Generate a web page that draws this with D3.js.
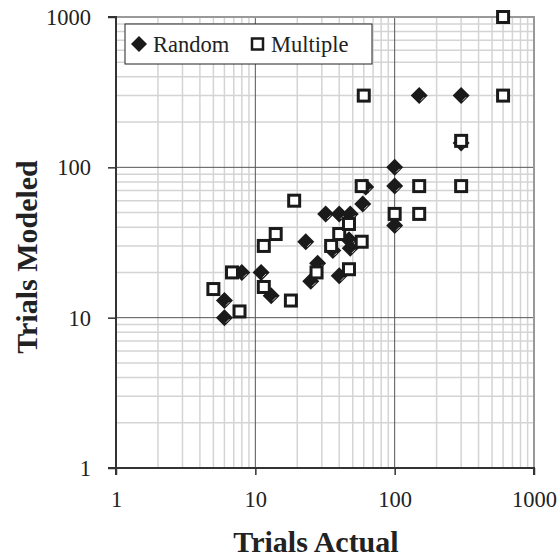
<!DOCTYPE html>
<html>
<head>
<meta charset="utf-8">
<script src="https://cdn.jsdelivr.net/npm/d3@7"></script>
<style>
  body { margin: 0; background: #fff; }
  svg text { font-family: "Times New Roman", "Liberation Serif", Times, serif; fill: #222; }
</style>
</head>
<body>
<svg id="chart"></svg>
<script>
// data (trials actual, trials modeled)
const randomX = [6, 6, 8, 11, 13, 23, 25, 28, 32, 40, 48, 40, 47, 48, 36, 59, 62, 100, 100, 100, 150, 300, 300];
const randomY = [10, 13, 20, 20, 14, 32, 17.5, 23, 49, 49, 49, 19, 33, 29, 28, 57, 74, 100, 75, 41, 300, 300, 145];
const multipleX = [5, 6.8, 7.7, 11.5, 11.5, 14, 18, 19, 27.5, 35, 40, 47, 47, 58, 58, 60, 100, 150, 150, 300, 300, 600, 600];
const multipleY = [15.5, 20, 11, 16, 30, 36, 13, 60, 20, 30, 36, 42, 21, 32, 75, 300, 49, 49, 75, 75, 150, 300, 1000];
const tickValues = [1, 10, 100, 1000];
const seriesNames = ['Random', 'Multiple'];

const w = 560, h = 557;
const pLeft = 116, pRight = 534, pTop = 17, pBottom = 468;
const serif = '"Times New Roman", "Liberation Serif", Times, serif';

const svg = d3.select('#chart')
  .attr('width', w)
  .attr('height', h)

const x = d3.scaleLog().domain([1, 1000]).range([pLeft, pRight]);
const y = d3.scaleLog().domain([1, 1000]).range([pBottom, pTop]);

// minor grid (2..9 in each decade)
const minor = [];
[1, 10, 100].forEach(d => { for (let k = 2; k <= 9; k++) minor.push(d * k) });

const grid = svg.append('g')
grid.selectAll('.vminor').data(minor).enter().append('line')
  .attr('x1', d => x(d)).attr('x2', d => x(d))
  .attr('y1', pTop).attr('y2', pBottom)
  .attr('stroke', '#d4d4d4').attr('stroke-width', 1.5)
grid.selectAll('.hminor').data(minor).enter().append('line')
  .attr('y1', d => y(d)).attr('y2', d => y(d))
  .attr('x1', pLeft).attr('x2', pRight)
  .attr('stroke', '#d4d4d4').attr('stroke-width', 1.5)

// major grid
grid.selectAll('.vmajor').data([10, 100]).enter().append('line')
  .attr('x1', d => x(d)).attr('x2', d => x(d))
  .attr('y1', pTop).attr('y2', pBottom)
  .attr('stroke', '#555').attr('stroke-width', 1)
grid.selectAll('.hmajor').data([10, 100]).enter().append('line')
  .attr('y1', d => y(d)).attr('y2', d => y(d))
  .attr('x1', pLeft).attr('x2', pRight)
  .attr('stroke', '#555').attr('stroke-width', 1)

// top and right border
svg.append('path')
  .attr('d', `M${pLeft},${pTop}H${pRight}V${pBottom}`)
  .attr('fill', 'none').attr('stroke', '#999').attr('stroke-width', 2)

// axes
const xAxis = d3.axisBottom(x).tickValues(tickValues).tickFormat(d3.format('d')).tickSize(7).tickPadding(16)
const yAxis = d3.axisLeft(y).tickValues(tickValues).tickFormat(d3.format('d')).tickSize(8).tickPadding(17)

const gx = svg.append('g').attr('transform', `translate(0,${pBottom})`).call(xAxis)
const gy = svg.append('g').attr('transform', `translate(${pLeft},0)`).call(yAxis)
;[gx, gy].forEach(g => {
  g.attr('font-family', serif)
  g.select('.domain').attr('stroke', '#333').attr('stroke-width', 2)
  g.selectAll('.tick line').attr('stroke', '#333').attr('stroke-width', 1.5)
  g.selectAll('.tick text')
    .style('font-family', serif)
    .style('font-size', '22.5px')
    .attr('fill', '#222')
})
gx.select('.domain').attr('d', `M${pLeft},7V0H${pRight}V7`)
gy.select('.domain').attr('d', `M-8,${pTop}H0V${pBottom}H-8`)
gy.selectAll('.tick text').attr('dy', '0.34em')

// markers
const randomPts = randomX.map((v, i) => [v, randomY[i]]);
const multiplePts = multipleX.map((v, i) => [v, multipleY[i]]);

const rg = svg.append('g').selectAll('g')
  .data(randomPts)
  .enter()
  .append('g')
  .attr('transform', d => `translate(${x(d[0])},${y(d[1])})`)
rg.append('path')
  .attr('d', 'M0,-8.5L8.5,0L0,8.5L-8.5,0Z')
  .attr('fill', '#1a1a1a')
rg.append('line')
  .attr('x1', 1.5).attr('y1', 5).attr('x2', 5).attr('y2', 1.5)
  .attr('stroke', '#bbb').attr('stroke-width', 1)

svg.append('g').selectAll('rect')
  .data(multiplePts)
  .enter()
  .append('rect')
  .attr('x', d => x(d[0]) - 5.5)
  .attr('y', d => y(d[1]) - 5.5)
  .attr('width', 11)
  .attr('height', 11)
  .attr('fill', '#fff')
  .attr('stroke', '#1a1a1a')
  .attr('stroke-width', 3)

// legend
const legend = svg.append('g').attr('transform', 'translate(125,24)')
legend.append('rect')
  .attr('width', 247).attr('height', 40)
  .attr('fill', '#fff').attr('stroke', '#222').attr('stroke-width', 1)
legend.append('path')
  .attr('d', 'M14,12L22,20L14,28L6,20Z')
  .attr('fill', '#1a1a1a')
legend.append('text').attr('x', 28).attr('y', 28)
  .style('font-size', '22.5px').text(seriesNames[0])
legend.append('rect')
  .attr('x', 127).attr('y', 14.5).attr('width', 11).attr('height', 11)
  .attr('fill', '#fff').attr('stroke', '#1a1a1a').attr('stroke-width', 2.5)
legend.append('text').attr('x', 146).attr('y', 28)
  .style('font-size', '22.5px').text(seriesNames[1])

// axis titles
svg.append('text')
  .attr('x', 316).attr('y', 552)
  .attr('text-anchor', 'middle')
  .style('font-size', '30px').style('font-weight', 'bold')
  .text('Trials Actual')
svg.append('text')
  .attr('transform', `translate(37,257) rotate(-90)`)
  .attr('text-anchor', 'middle')
  .style('font-size', '30px').style('font-weight', 'bold')
  .text('Trials Modeled')
</script>
</body>
</html>
